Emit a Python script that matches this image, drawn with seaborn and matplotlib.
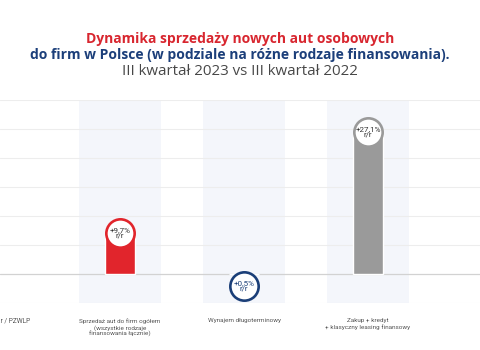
import matplotlib
matplotlib.use("Agg")
import matplotlib.pyplot as plt
import matplotlib.transforms as mtransforms
import seaborn as sns

# Data
categories = [
    "Sprzedaż aut do firm ogółem\n(wszystkie rodzaje\nfinansowania łącznie)",
    "Wynajem długoterminowy",
    "Zakup + kredyt\n+ klasyczny leasing finansowy",
]
values = [9.7, 0.5, 27.1]
value_labels = ["+9,7%\nr/r", "+0,5%\nr/r", "+27,1%\nr/r"]
bar_colors = ["#E1252C", "#1B3F78", "#9A9A9A"]
text_colors = ["#333333", "#1B3F78", "#333333"]
source = "Źródło: Samar / PZWLP"

sns.set_style("white")
plt.rcParams["font.family"] = ["Roboto", "DejaVu Sans"]

fig = plt.figure(figsize=(4.8, 3.5), dpi=100)
ax = fig.add_axes([0, 0.134, 1, 0.58])
ymin, ymax = -5, 30
ax.set_ylim(ymin, ymax)

# circle radius (px) converted to data units
r_px = 15
ax_h_px = 0.58 * 3.5 * 100
r_data = r_px * (ymax - ymin) / ax_h_px
heights = [max(v - r_data, 0) for v in values]

df_x = list(range(len(categories)))
sns.barplot(x=df_x, y=heights, hue=df_x, palette=bar_colors, width=0.245,
            legend=False, ax=ax, zorder=3, saturation=1)

ax.set_xlim(-0.968, 2.903)
ax.set_ylim(ymin, ymax)

# background bands
for i in df_x:
    ax.axvspan(i - 0.33, i + 0.33, color="#F4F6FB", zorder=0, lw=0)

# gridlines
for y in range(ymin, ymax + 1, 5):
    if y == 0:
        continue
    ax.axhline(y, color="#EDEDED", lw=0.8, zorder=1)
ax.axhline(0, color="#D2D2D2", lw=0.9, zorder=2)

# circles with labels
r_pt = r_px * 72 / 100
trans = mtransforms.offset_copy(ax.transData, fig=fig, y=-r_pt, units="points")
for i, v in enumerate(values):
    ax.plot(i, v, marker="o", ms=2 * r_pt - 1.2, mfc="white", mec=bar_colors[i],
            mew=1.9, transform=trans, zorder=4, clip_on=False)
    ax.text(i, v, value_labels[i], transform=trans, ha="center", va="center",
            fontsize=5.8, color=text_colors[i], linespacing=0.9, zorder=5)

ax.set_yticks([])
ax.set_xticks(df_x)
ax.set_xticklabels(categories, fontsize=4.6, color="#555555", linespacing=1.15)
ax.tick_params(axis="x", length=0, pad=11)
for s in ax.spines.values():
    s.set_visible(False)

ax.text(-1.0, -0.075, source, transform=ax.get_xaxis_transform(), ha="center",
        va="top", fontsize=4.8, color="#555555", clip_on=False)

# titles
fig.text(0.5, 0.889, "Dynamika sprzedaży nowych aut osobowych", ha="center",
         va="center", fontsize=10, fontweight="bold", color="#D8262F",
         family=["Open Sans", "DejaVu Sans"])
fig.text(0.5, 0.843, "do firm w Polsce (w podziale na różne rodzaje finansowania).",
         ha="center", va="center", fontsize=10, fontweight="bold", color="#1C3F7A",
         family=["Open Sans", "DejaVu Sans"])
fig.text(0.5, 0.797, "III kwartał 2023 vs III kwartał 2022", ha="center",
         va="center", fontsize=10.8, color="#474747",
         family=["Open Sans", "DejaVu Sans"])

fig.savefig("out.png", dpi=100, facecolor="white")
